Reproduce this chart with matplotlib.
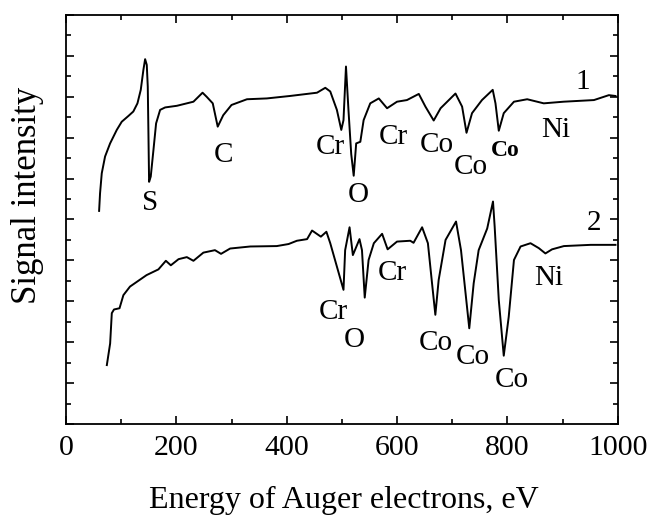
import matplotlib
matplotlib.use('Agg')
import matplotlib.pyplot as plt
from matplotlib.ticker import MultipleLocator

plt.rcParams['font.family'] = ['Liberation Serif', 'DejaVu Serif']

# spectrum 1 (upper), energy in eV and signal in arbitrary units
e1 = [60, 61.7, 64.8, 70.8, 79.9, 92, 101, 113, 122, 129.5, 135.5, 140.3,
      143.4, 146.4, 148.2, 149.4, 150.6, 153.6, 158.5, 163.3, 170.6, 179.7,
      201, 231, 247.5, 255, 266, 275, 285, 300, 328, 364, 406, 455, 470,
      479, 491, 499, 503, 507.5, 512, 517, 521.5, 526, 533.5, 539.5, 551.5,
      567, 582, 600, 618, 639.5, 651.5, 666.5, 679, 706, 718, 726, 736, 754,
      773.5, 778.5, 784.5, 793.5, 812, 836, 866, 902, 957, 984, 996]
s1 = [5.21, 5.64, 6.13, 6.54, 6.86, 7.19, 7.39, 7.53, 7.64, 7.84, 8.17, 8.66,
      8.92, 8.78, 8.25, 7.11, 5.92, 6.05, 6.70, 7.35, 7.68, 7.74,
      7.78, 7.88, 8.10, 8.00, 7.84, 7.27, 7.55, 7.80, 7.94, 7.96, 8.02, 8.10,
      8.22, 8.13, 7.68, 7.19, 7.43, 8.74, 7.68, 6.60, 6.07, 6.86, 6.90, 7.43,
      7.84, 7.96, 7.72, 7.88, 7.92, 8.07, 7.76, 7.42, 7.72, 8.08, 7.76, 7.12,
      7.60, 7.92, 8.17, 7.84, 7.17, 7.60, 7.88, 7.94, 7.84, 7.88, 7.92, 8.04,
      8.02]

# spectrum 2 (lower)
e2 = [74, 80, 83, 87, 97, 104, 116, 146, 167.5, 181, 190, 204, 219, 231, 249,
      270, 281, 297.5, 334, 382, 403.5, 418.5, 437, 446, 462, 472, 479, 491,
      503, 506, 514, 520, 532, 536.5, 541.5, 548.5, 558, 573, 583, 600, 624,
      630, 645.5, 656, 663.5, 669.5, 675.5, 688, 707, 716, 731, 739, 748, 763.5,
      774, 777, 784.5, 793.5, 802.5, 812, 824, 842, 857, 869, 881, 902.5, 951,
      996]
s2 = [1.44, 1.97, 2.71, 2.80, 2.83, 3.15, 3.36, 3.64, 3.78, 3.99, 3.88, 4.03,
      4.08, 3.99, 4.19, 4.25, 4.16, 4.29, 4.34, 4.35, 4.40, 4.48, 4.52, 4.73,
      4.58, 4.70, 4.42, 3.85, 3.28, 4.25, 4.81, 4.13, 4.52, 4.25, 3.09, 4.01,
      4.42, 4.65, 4.27, 4.46, 4.48, 4.43, 4.81, 4.42, 3.44, 2.67, 3.52, 4.50,
      4.95, 4.25, 2.34, 3.44, 4.25, 4.78, 5.44, 4.83, 3.03, 1.67, 2.62, 4.01,
      4.34, 4.42, 4.30, 4.17, 4.27, 4.35, 4.38, 4.38]

# peak labels: (text, energy, signal)
labels1 = [('S', 152, 5.40), ('C', 285, 6.58), ('Cr', 479, 6.78),
           ('O', 530, 5.60), ('Cr', 594, 7.02), ('Co', 673, 6.82),
           ('Co', 733, 6.29), ('Ni', 887, 7.20), ('1', 936, 8.37)]
labels2 = [('Cr', 485, 2.75), ('O', 523, 2.05), ('Cr', 591, 3.68),
           ('Co', 671, 1.97), ('Co', 738, 1.65), ('Co', 809, 1.08),
           ('Ni', 875, 3.56), ('2', 957, 4.92)]

fig = plt.figure(figsize=(6.51, 5.17), dpi=100)
ax = fig.add_axes([0.1014, 0.1799, 0.8474, 0.7911])

ax.plot(e1, s1, color='black', lw=1.4)
ax.plot(e2, s2, color='black', lw=1.4)

for txt, x, y in labels1 + labels2:
    ax.text(x, y, txt, fontsize=21, ha='center', va='center')
# the small bold Co label on spectrum 1
ax.text(797, 6.68, 'Co', fontsize=17, fontweight='bold', ha='center', va='center')

ax.set_xlim(0, 1000)
ax.set_ylim(0, 10)
ax.xaxis.set_major_locator(MultipleLocator(200))
ax.xaxis.set_minor_locator(MultipleLocator(100))
ax.yaxis.set_major_locator(MultipleLocator(1))
ax.yaxis.set_minor_locator(MultipleLocator(0.5))
ax.tick_params(which='both', direction='in', top=True, right=True, width=1.2)
ax.tick_params(which='major', length=6)
ax.tick_params(which='minor', length=3.5)
ax.tick_params(axis='x', labelsize=21.5, pad=8)
ax.set_yticklabels([])
for sp in ax.spines.values():
    sp.set_linewidth(1.3)

ax.set_xlabel('Energy of Auger electrons, eV', fontsize=23)
ax.xaxis.set_label_coords(0.503, -0.152)
ax.set_ylabel('Signal intensity', fontsize=25)
ax.yaxis.set_label_coords(-0.04, 0.56)

fig.savefig('out.png', dpi=100)
